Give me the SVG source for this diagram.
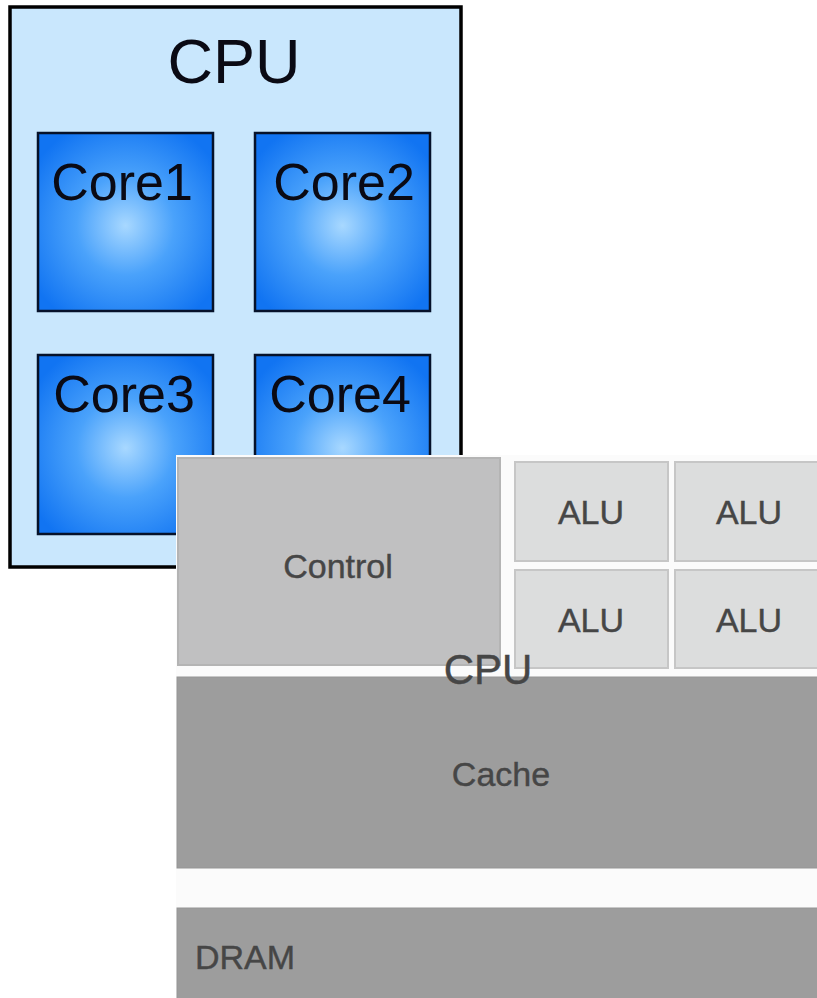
<svg xmlns="http://www.w3.org/2000/svg" width="817" height="998" viewBox="0 0 817 998">
<defs>
<radialGradient id="coreGrad" cx="0.5" cy="0.52" r="0.62">
<stop offset="0" stop-color="#a8d8ff"/>
<stop offset="0.45" stop-color="#4aa2fb"/>
<stop offset="1" stop-color="#1174f2"/>
</radialGradient>
<style>
.blue{font-family:"Liberation Sans",Arial,sans-serif;fill:#0a0a14;text-anchor:middle}
.gray{font-family:"Liberation Sans",Arial,sans-serif;fill:#464646;font-size:34px;text-anchor:middle;stroke:#464646;stroke-width:0.4}
.core{fill:url(#coreGrad);stroke:#06122a;stroke-width:2.5}
.alu{fill:#dcdddd;stroke:#c6c6c6;stroke-width:2}
.big{fill:#9d9d9d;stroke:#959595;stroke-width:1}
</style>
</defs>
<rect width="817" height="998" fill="#ffffff"/>
<g id="cpu1">
<rect x="10" y="7" width="451" height="560" fill="#c9e7fd" stroke="#000" stroke-width="3.5"/>
<text class="blue" x="234" y="83" style="font-size:63px">CPU</text>
</g>
<g id="core1">
<rect class="core" x="38" y="133" width="175" height="178"/>
<text class="blue" x="122" y="200" style="font-size:52px">Core1</text>
</g>
<g id="core2">
<rect class="core" x="255" y="133" width="175" height="178"/>
<text class="blue" x="344" y="200" style="font-size:52px">Core2</text>
</g>
<g id="core3">
<rect class="core" x="38" y="355" width="175" height="179"/>
<text class="blue" x="124" y="412" style="font-size:52px">Core3</text>
</g>
<g id="core4">
<rect class="core" x="255" y="355" width="175" height="179"/>
<text class="blue" x="340" y="412" style="font-size:52px">Core4</text>
</g>
<g id="panel">
<rect x="176" y="455" width="641" height="543" fill="#fbfbfb"/>
</g>
<g id="control">
<rect x="178" y="458" width="322" height="207" fill="#c0c0c1" stroke="#b4b4b4" stroke-width="2"/>
<text class="gray" x="338" y="578">Control</text>
</g>
<g id="alu1">
<rect class="alu" x="515" y="462" width="153" height="99"/>
<text class="gray" x="591" y="524">ALU</text>
</g>
<g id="alu2">
<rect class="alu" x="675" y="462" width="150" height="99"/>
<text class="gray" x="749" y="524">ALU</text>
</g>
<g id="alu3">
<rect class="alu" x="515" y="570" width="153" height="98"/>
<text class="gray" x="591" y="632">ALU</text>
</g>
<g id="alu4">
<rect class="alu" x="675" y="570" width="150" height="98"/>
<text class="gray" x="749" y="632">ALU</text>
</g>
<g id="cache">
<rect class="big" x="177" y="677" width="650" height="191"/>
<text class="gray" x="501" y="786">Cache</text>
</g>
<g id="cpu2label">
<text class="gray" x="488" y="684" style="font-size:42px">CPU</text>
</g>
<g id="dram">
<rect class="big" x="177" y="908" width="650" height="100"/>
<text class="gray" x="195" y="969" style="text-anchor:start">DRAM</text>
</g>
<g id="connectors"/>
</svg>
